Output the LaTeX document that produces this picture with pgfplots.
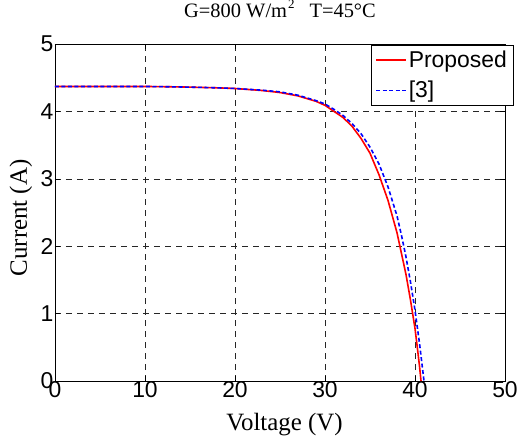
\documentclass[border=0pt]{standalone}
\usepackage{fontspec}
\setmainfont{Liberation Serif}
\newfontfamily\arial{Liberation Sans}
\usepackage{pgfplots}
\pgfplotsset{compat=1.18}

\begin{document}
\begin{tikzpicture}
% page = 519 x 441, axis box from (55,44) to (505,381)
\path[use as bounding box] (-55bp,-60bp) rectangle (464bp,381bp);
\begin{axis}[
    name=ax,
    at={(0,0)}, anchor=south west,
    scale only axis,
    width=450bp, height=337bp,
    xmin=0, xmax=50, ymin=0, ymax=5,
    xtick={0,10,...,50}, ytick={0,1,...,5},
    tick align=inside,
    major tick length=5bp,
    tick style={black, line width=0.6bp},
    axis line style={black, line width=0.8bp},
    grid=major,
    grid style={black!85, line width=0.6bp, dash pattern=on 6bp off 5bp},
    tick label style={font=\arial\fontsize{23}{23}\selectfont},
    /pgf/number format/assume math mode=true,
    xticklabel style={yshift=3bp},
    yticklabel style={xshift=2bp},
    xlabel={Voltage (V)},
    ylabel={Current (A)},
    label style={font=\fontsize{25}{25}\selectfont},
    xlabel style={at={(axis description cs:0.51,-0.086)}, anchor=north},
    ylabel style={at={(axis description cs:-0.0756,0.484)}, anchor=center},
    title={G=800 W/m\kern1bp\raisebox{0.4em}{\fontsize{13}{13}\selectfont 2}\hspace{15bp}T=45\textdegree C},
    title style={font=\fontsize{20.5}{20.5}\selectfont,
        at={(axis description cs:0.5,1.062)}, anchor=base},
    legend style={at={(rel axis cs:1.018,0.997)}, anchor=north east,
        font=\arial\fontsize{23}{23}\selectfont,
        inner xsep=4bp, inner ysep=4bp, row sep=8bp},
    legend cell align=left,
    legend image code/.code={\draw[#1] (0bp,0bp) -- (30bp,0bp);},
    legend image post style={line width=1.6bp},
]
\addplot[red, line width=1.6bp] coordinates {
    (0,4.37) (10,4.37) (13,4.365) (15,4.36) (18,4.35) (20,4.34) (23,4.31)
    (25,4.28) (27,4.23) (29,4.15) (30,4.09) (31,4.00) (32,3.91) (33,3.78)
    (34,3.60) (35,3.38) (36,3.06) (37,2.68) (38,2.20) (39,1.58) (39.5,1.20)
    (40,0.78) (40.3,0.45) (40.5,0.22) (40.67,0)
};
\addlegendentry{Proposed}
\addplot[blue, line width=1.6bp, dash pattern=on 4bp off 2.5bp] coordinates {
    (0,4.37) (10,4.37) (13,4.365) (15,4.36) (18,4.35) (20,4.34) (23,4.315)
    (25,4.29) (27,4.24) (29,4.16) (30,4.11) (31,4.03) (32,3.94) (33,3.82)
    (34,3.67) (35,3.47) (36,3.22) (37,2.88) (38,2.45) (38.5,2.16) (39,1.84)
    (39.5,1.47) (40,1.05) (40.5,0.56) (41.0,0)
};
\addlegendentry{[3]}
\end{axis}
\end{tikzpicture}
\end{document}
